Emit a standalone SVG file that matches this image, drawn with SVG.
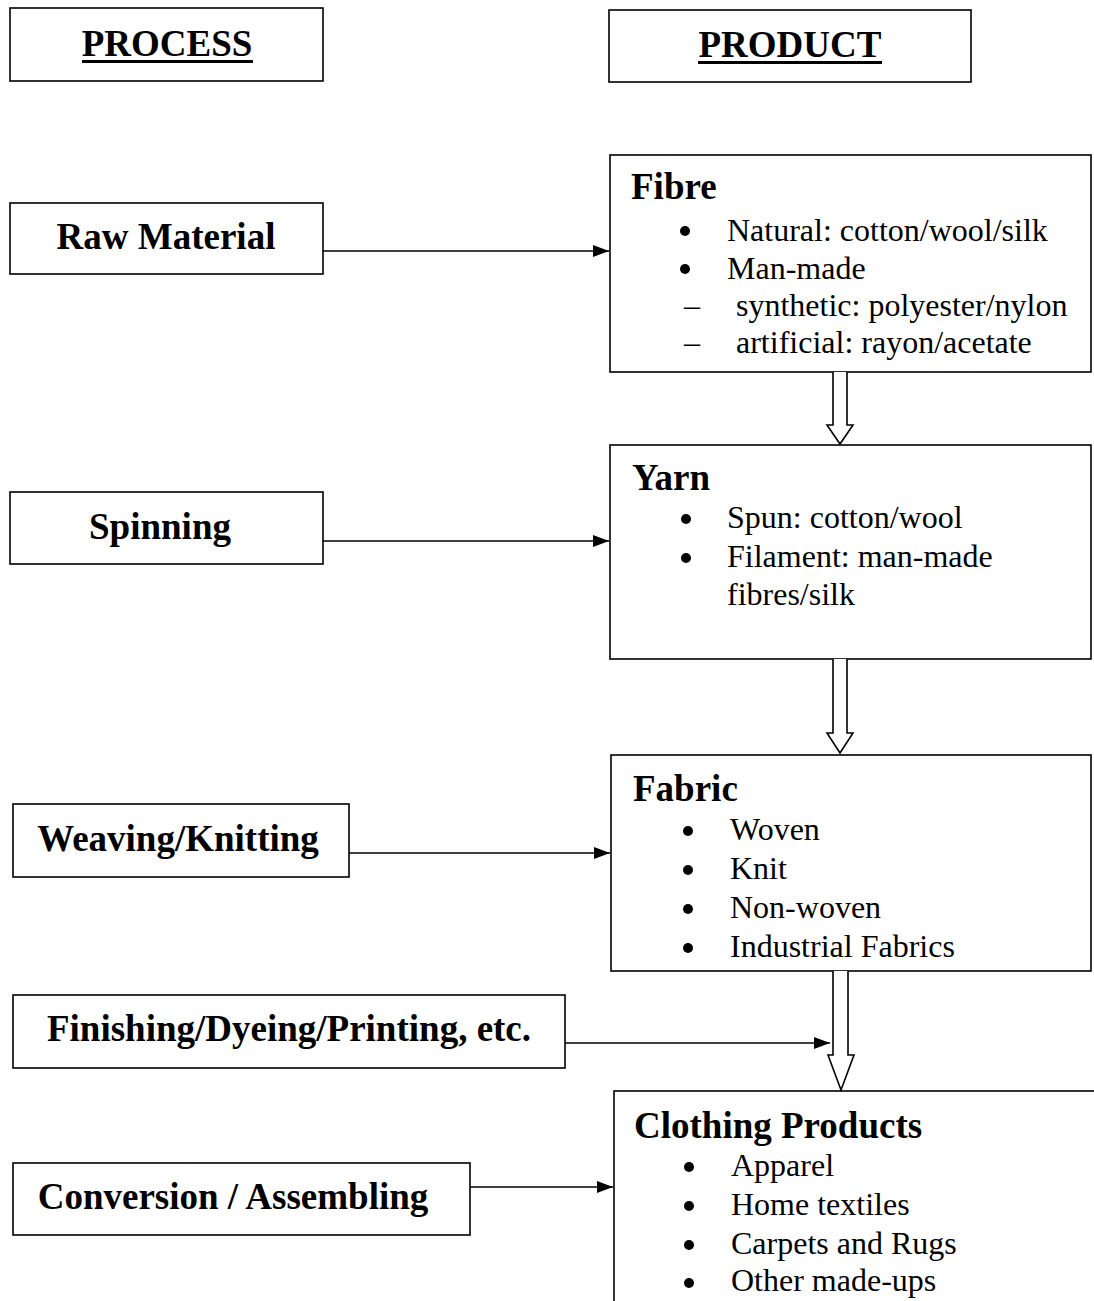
<svg xmlns="http://www.w3.org/2000/svg" width="1094" height="1301" viewBox="0 0 1094 1301">
<style>
.box{fill:#fff;stroke:#000;stroke-width:1.6}
.h{font-family:"Liberation Serif","Times New Roman",serif;font-weight:bold;font-size:37px;fill:#000}
.t{font-family:"Liberation Serif","Times New Roman",serif;font-size:32px;fill:#000}
.c{stroke:#000;stroke-width:1.6;fill:none}
.dbl{stroke:#000;stroke-width:1.6;fill:#fff}
</style>
<defs>
<marker id="ah" markerWidth="16" markerHeight="12" refX="16" refY="6" orient="auto" markerUnits="userSpaceOnUse">
<path d="M0,0 L16,6 L0,12 Z" fill="#000"/>
</marker>
</defs>
<rect width="1094" height="1301" fill="#fff"/>

<g id="process-header">
<rect class="box" x="10" y="8" width="313" height="73"/>
<text class="h" x="167" y="56" text-anchor="middle">PROCESS</text>
<rect x="82" y="60" width="171" height="3" fill="#000"/>
</g>
<g id="product-header">
<rect class="box" x="609" y="10" width="362" height="72"/>
<text class="h" x="790" y="57" text-anchor="middle">PRODUCT</text>
<rect x="698" y="61" width="184" height="3" fill="#000"/>
</g>

<g id="raw-material">
<rect class="box" x="10" y="203" width="313" height="71"/>
<text class="h" x="166" y="249" text-anchor="middle">Raw Material</text>
</g>
<g id="spinning">
<rect class="box" x="10" y="492" width="313" height="72"/>
<text class="h" x="160" y="539" text-anchor="middle">Spinning</text>
</g>
<g id="weaving">
<rect class="box" x="13" y="804" width="336" height="73"/>
<text class="h" x="178" y="851" text-anchor="middle">Weaving/Knitting</text>
</g>
<g id="finishing">
<rect class="box" x="13" y="995" width="552" height="73"/>
<text class="h" x="289" y="1041" text-anchor="middle">Finishing/Dyeing/Printing, etc.</text>
</g>
<g id="conversion">
<rect class="box" x="13" y="1163" width="457" height="72"/>
<text class="h" x="233" y="1209" text-anchor="middle">Conversion / Assembling</text>
</g>

<g id="fibre">
<rect class="box" x="610" y="155" width="481" height="217"/>
<text class="h" x="631" y="199">Fibre</text>
<circle cx="685" cy="231" r="5"/>
<text class="t" x="727" y="241">Natural: cotton/wool/silk</text>
<circle cx="685" cy="269" r="5"/>
<text class="t" x="727" y="279">Man-made</text>
<text class="t" x="684" y="316">–</text>
<text class="t" x="736" y="316">synthetic: polyester/nylon</text>
<text class="t" x="684" y="353">–</text>
<text class="t" x="736" y="353">artificial: rayon/acetate</text>
</g>

<g id="yarn">
<rect class="box" x="610" y="445" width="481" height="214"/>
<text class="h" x="632" y="490">Yarn</text>
<circle cx="686" cy="519" r="5"/>
<text class="t" x="727" y="528">Spun: cotton/wool</text>
<circle cx="686" cy="558" r="5"/>
<text class="t" x="727" y="567">Filament: man-made</text>
<text class="t" x="727" y="605">fibres/silk</text>
</g>

<g id="fabric">
<rect class="box" x="611" y="755" width="480" height="216"/>
<text class="h" x="633" y="801">Fabric</text>
<circle cx="688" cy="831" r="5"/>
<text class="t" x="730" y="840">Woven</text>
<circle cx="688" cy="870" r="5"/>
<text class="t" x="730" y="879">Knit</text>
<circle cx="688" cy="909" r="5"/>
<text class="t" x="730" y="918">Non-woven</text>
<circle cx="688" cy="948" r="5"/>
<text class="t" x="730" y="957">Industrial Fabrics</text>
</g>

<g id="clothing">
<rect class="box" x="614" y="1091" width="490" height="230"/>
<text class="h" x="634" y="1138">Clothing Products</text>
<circle cx="689" cy="1167" r="5"/>
<text class="t" x="731" y="1176">Apparel</text>
<circle cx="689" cy="1206" r="5"/>
<text class="t" x="731" y="1215">Home textiles</text>
<circle cx="689" cy="1245" r="5"/>
<text class="t" x="731" y="1254">Carpets and Rugs</text>
<circle cx="689" cy="1283" r="5"/>
<text class="t" x="731" y="1291">Other made-ups</text>
</g>

<g id="connectors">
<line class="c" x1="323" y1="251" x2="609" y2="251" marker-end="url(#ah)"/>
<line class="c" x1="323" y1="541" x2="609" y2="541" marker-end="url(#ah)"/>
<line class="c" x1="349" y1="853" x2="610" y2="853" marker-end="url(#ah)"/>
<line class="c" x1="565" y1="1043" x2="830" y2="1043" marker-end="url(#ah)"/>
<line class="c" x1="470" y1="1187" x2="613" y2="1187" marker-end="url(#ah)"/>

<path class="dbl" d="M833,372 V425 H827 L840,444 L853,425 H847 V372"/>
<path class="dbl" d="M833,659 V733 H827 L840,753 L853,733 H847 V659"/>
<path class="dbl" d="M833,971 V1055 H828 L841,1090 L854,1055 H848 V971"/>
</g>
</svg>
